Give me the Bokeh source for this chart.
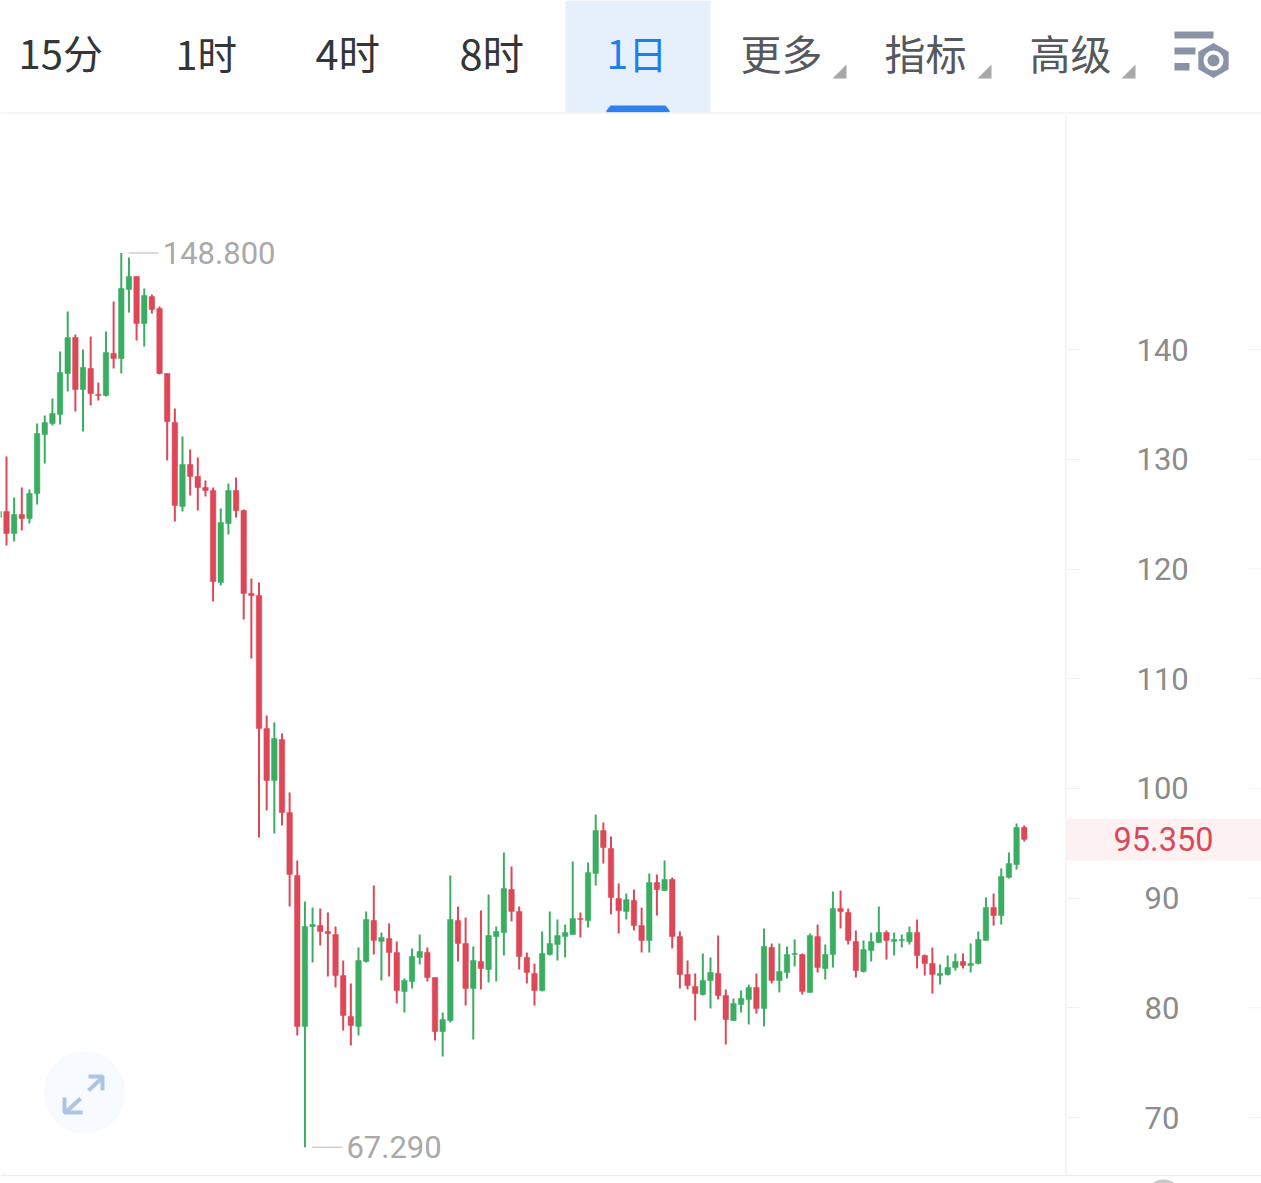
from bokeh.plotting import figure
from bokeh.embed import file_html
from bokeh.resources import INLINE
from bokeh.core.properties import value
from bokeh.models import Range1d, LinearAxis, FixedTicker, Label, ColumnDataSource

# ---------- data ----------
opens = [124.70,125.24,123.24,124.97,124.61,126.88,132.26,133.27,134.09,137.82,
 141.10,136.36,138.28,135.91,135.82,139.65,139.19,145.48,146.67,142.38,
 144.84,143.75,137.82,133.36,125.70,129.53,128.43,127.43,127.16,118.77,
 124.15,127.16,125.33,117.77,117.59,105.46,100.72,104.46,97.80,92.06,
 78.30,87.41,87.50,86.96,86.68,82.94,79.21,78.30,84.22,87.96,
 86.04,86.32,85.04,81.49,82.40,84.59,85.04,82.76,77.84,78.84,
 87.96,85.86,81.76,84.22,83.49,86.50,86.86,90.78,88.78,84.59,
 83.13,81.58,84.86,85.77,86.50,86.68,88.14,87.96,92.24,96.16,
 94.52,89.96,88.78,89.78,87.50,86.14,91.42,90.69,91.70,86.50,
 83.04,81.94,81.21,82.49,83.13,81.12,78.84,80.30,80.76,81.85,
 79.94,85.50,82.49,83.22,84.86,84.86,81.40,86.50,83.58,84.86,
 89.05,88.69,86.04,83.31,85.22,85.95,86.86,86.04,86.14,86.04,
 86.86,84.77,84.04,82.94,83.04,83.67,84.22,83.86,84.04,86.14,
 89.14,88.41,91.88,93.06,96.44]
highs = [125.52,130.26,126.52,127.43,127.25,133.27,133.99,135.54,139.83,143.47,
 141.38,140.01,141.20,137.00,141.65,144.39,148.80,148.40,146.67,145.57,
 145.02,143.93,137.82,134.63,132.08,130.90,130.17,128.07,127.43,125.52,
 127.80,128.34,125.43,119.14,118.77,106.65,106.01,105.01,99.63,93.43,
 89.69,89.14,89.05,88.69,87.41,84.31,82.22,85.50,88.78,91.15,
 86.86,87.69,86.04,82.67,85.41,86.68,85.50,82.76,79.57,92.06,
 89.23,88.23,85.59,88.87,90.33,87.41,94.16,92.88,89.23,85.04,
 84.04,86.96,88.78,88.05,87.59,93.34,88.69,93.25,97.62,96.89,
 95.62,91.33,90.42,90.78,89.14,92.24,92.15,93.43,91.88,86.96,
 84.31,83.13,84.95,84.59,86.59,81.67,80.85,81.58,82.12,83.13,
 87.23,85.86,85.86,85.59,86.23,84.95,86.77,87.59,85.77,90.60,
 90.69,89.05,87.05,86.14,86.86,89.23,87.05,86.86,86.68,87.41,
 88.05,84.86,85.50,83.95,84.77,84.95,84.95,85.86,86.96,90.06,
 90.42,92.70,94.16,96.80,96.62]
lows = [124.24,122.14,122.51,123.51,124.15,125.88,129.62,133.08,133.17,136.18,
 134.36,132.54,134.91,135.36,135.73,138.28,137.82,143.38,140.83,140.28,
 143.29,137.73,129.89,124.33,125.24,126.70,125.33,126.61,117.04,118.50,
 123.15,124.70,115.40,111.84,95.52,97.99,95.89,96.62,89.23,77.48,
 67.29,84.13,85.68,82.85,81.85,77.93,76.56,77.48,84.13,84.86,
 82.49,82.85,80.39,79.57,81.76,83.95,82.40,77.02,75.56,78.66,
 84.22,80.21,77.11,81.67,82.31,82.40,84.77,87.87,83.49,82.22,
 80.21,81.49,84.77,84.31,84.59,86.68,86.41,87.32,91.15,93.15,
 88.51,86.77,88.05,87.05,85.04,85.04,88.41,90.69,85.41,81.76,
 81.67,78.84,81.12,79.94,80.76,76.65,78.84,79.57,78.48,79.48,
 78.30,82.22,81.40,82.67,83.77,81.21,81.40,83.22,82.58,83.67,
 87.23,85.77,82.76,83.22,84.22,85.95,84.40,84.77,85.50,85.77,
 83.58,82.94,81.30,82.12,82.94,83.40,83.58,83.22,83.95,86.14,
 87.50,87.59,91.79,92.61,95.16]
closes = [125.24,123.24,124.97,124.61,126.88,132.35,133.36,134.18,137.91,141.10,
 136.36,138.37,136.00,135.82,139.74,139.19,145.57,146.67,142.38,144.93,
 143.66,137.82,133.45,125.79,129.53,128.43,127.43,127.16,118.86,124.24,
 127.16,125.33,117.77,117.59,105.46,100.72,104.55,97.80,92.15,78.30,
 87.41,87.59,86.96,86.77,82.94,79.30,78.39,84.31,88.05,86.14,
 86.41,85.04,81.58,82.49,84.68,85.13,82.76,77.84,78.93,88.05,
 85.86,81.76,84.31,83.58,86.59,86.96,90.88,88.78,84.68,83.22,
 81.58,84.95,85.86,86.59,86.86,88.14,88.05,92.33,96.16,94.61,
 90.06,88.87,89.87,87.50,86.14,91.42,90.78,91.70,86.50,83.04,
 82.03,81.30,82.49,83.22,81.12,78.93,80.39,80.85,81.85,79.94,
 85.59,82.49,83.31,84.86,84.95,81.49,86.59,83.67,84.86,89.05,
 88.78,86.14,83.40,85.31,86.04,86.86,86.14,86.23,86.23,86.86,
 84.77,84.04,83.04,83.13,83.67,84.22,83.86,84.04,86.23,89.14,
 88.41,91.97,93.15,96.44,95.35]
ticks_wide = [100, 110, 120, 130, 140]
ticks_narrow = [70, 80, 90]
last_label = "95.350"
high_label = "148.800"
low_label = "67.290"
tabs = ["15分", "1时", "4时", "8时"]
active_tab = "1日"
menus = ["更多", "指标", "高级"]

# ---------- layout ----------
W, H = 1261, 1183
PX_STEP = 7.652
PX_UNIT = 10.97
def X(px):  # reference pixel -> candle index
    return 1 + (px - 6) / PX_STEP
def Y(py):  # reference pixel -> price
    return 70 + (1117 - py) / PX_UNIT

RED, GREEN = "#dd4757", "#3bad62"
FONT = "Noto Sans CJK SC"
NUM = "Roboto"

p = figure(width=W, height=H, output_backend="svg", toolbar_location=None,
           x_range=Range1d(X(0), X(W)), y_range=Range1d(Y(H), Y(0)),
           x_axis_location=None, y_axis_location=None, min_border=0,
           background_fill_color="white", border_fill_color="white", outline_line_color=None)
p.grid.visible = False

# header + frame furniture
p.quad(left=[X(565)], right=[X(710)], top=[Y(0)], bottom=[Y(112)], fill_color="#e6f0fd", line_color=None)
bx = [606, 606, 610, 665, 669, 669]
by = [112, 110, 105, 105, 110, 112]
p.patch([X(v) for v in bx], [Y(v) for v in by], fill_color="#2f80ed", line_color=None)
p.segment([X(0)], [Y(112.5)], [X(1261)], [Y(112.5)], line_color="#f2f2f2", line_width=1.5)
p.segment([X(1065.5)], [Y(112)], [X(1065.5)], [Y(1175)], line_color="#f5f5f5", line_width=2)
p.segment([X(0)], [Y(1175)], [X(1261)], [Y(1175)], line_color="#eeeeee", line_width=1.5)
p.scatter([X(1163)], [Y(1197)], marker="circle", size=36, fill_color="#c9c9c9", line_color=None)

# last price band
last = closes[-1]
p.quad(left=[X(1066)], right=[X(1261)], top=[Y(818)], bottom=[Y(860)], fill_color="#fdf1f1", line_color=None)

# candles
idx = list(range(len(opens)))
colors = [RED if c < o else GREEN for o, c in zip(opens, closes)]
src = ColumnDataSource(dict(x=idx, o=opens, h=highs, l=lows, c=closes, col=colors,
                            top=[max(a, b) for a, b in zip(opens, closes)],
                            bot=[min(a, b) for a, b in zip(opens, closes)]))
p.segment("x", "h", "x", "l", source=src, line_color="col", line_width=2)
p.vbar(x="x", top="top", bottom="bot", width=0.72, source=src, fill_color="col", line_color="col", line_width=0.5)

# high / low markers
hi = highs.index(max(highs))
lo = lows.index(min(lows))
p.segment([hi + 0.95, lo + 0.95], [highs[hi], lows[lo]], [hi + 4.87, lo + 4.87], [highs[hi], lows[lo]],
          line_color="#cfcfcf", line_width=1.5)
p.text([hi, lo], [highs[hi], lows[lo]], text=[high_label, low_label], x_offset=41.5, text_baseline="middle",
       text_font=value(NUM), text_font_size="31px", text_color="#a9a9a9")

# price axes, inside the frame; three-digit and two-digit ticks are set separately to stay centred
def price_axis(ticks, standoff):
    ax = LinearAxis(ticker=FixedTicker(ticks=ticks), fixed_location=X(1065))
    ax.axis_line_color = None
    ax.major_tick_line_color = "#f2f2f2"
    ax.major_tick_out = 15
    ax.major_tick_in = 0
    ax.minor_tick_line_color = None
    ax.major_label_standoff = standoff
    ax.major_label_text_font = NUM
    ax.major_label_text_font_size = "31px"
    ax.major_label_text_color = "#8c8c8c"
    p.add_layout(ax, "right")
price_axis(ticks_wide, 56)
price_axis(ticks_narrow, 64)

all_ticks = ticks_narrow + ticks_wide
p.segment([X(1248)] * len(all_ticks), all_ticks, [X(1261)] * len(all_ticks), all_ticks,
          line_color="#f2f2f2", line_width=1)

p.text([X(1163)], [last], text=[last_label], text_align="center", text_baseline="middle",
       text_font=value(NUM), text_font_size="32.5px", text_color="#d9485a")

# tabs
def lab(txt, px, py, color, size=40, font=FONT, align="left"):
    p.add_layout(Label(x=px, y=H - py, x_units="screen", y_units="screen", text=txt,
                       text_font=font, text_font_size=f"{size}px", text_color=color,
                       text_baseline="middle", text_align=align))

for t, px, s in zip(tabs, [18, 175, 315, 459], [40, 39.5, 41.5, 41.5]):
    lab(t, px, 51.5, "#333638", size=s)
lab(active_tab, 606, 51.5, "#1f7fe8", size=39)
for t, px, tx in zip(menus, [740, 884, 1029], [846, 991, 1135]):
    lab(t, px, 51.5, "#55585c", size=41)
    p.patch([X(tx), X(tx), X(tx - 14)], [Y(64), Y(78), Y(78)], fill_color="#a8a8a8", line_color=None)

# settings icon
ICON = "#8a93a6"
p.quad(left=[X(1174)] * 3, right=[X(1213), X(1195), X(1189)],
       top=[Y(31), Y(47), Y(62.5)], bottom=[Y(38), Y(54), Y(70)], fill_color=ICON, line_color=None)
p.scatter([X(1213)], [Y(60)], marker="hex", size=41, angle=1.5708, fill_color="white", line_color=None)
p.scatter([X(1213)], [Y(60)], marker="hex", size=35, angle=1.5708, fill_color=ICON, line_color=None)
p.scatter([X(1213)], [Y(60)], marker="circle", size=20, fill_color="white", line_color=None)
p.scatter([X(1213)], [Y(60)], marker="circle", size=12, fill_color=ICON, line_color=None)

# expand button
p.scatter([X(84)], [Y(1092)], marker="circle", size=82, fill_color="#f7fafe", line_color=None)
arrows_x = [[88, 102], [88, 102, 102], [80, 65], [64, 64, 82]]
arrows_y = [[1090, 1077], [1076, 1076, 1090], [1098, 1112], [1097, 1112, 1112]]
p.multi_line([[X(v) for v in a] for a in arrows_x], [[Y(v) for v in a] for a in arrows_y],
             line_color="#adc4e4", line_width=4)

open("out.html", "w").write(file_html(p, INLINE))
